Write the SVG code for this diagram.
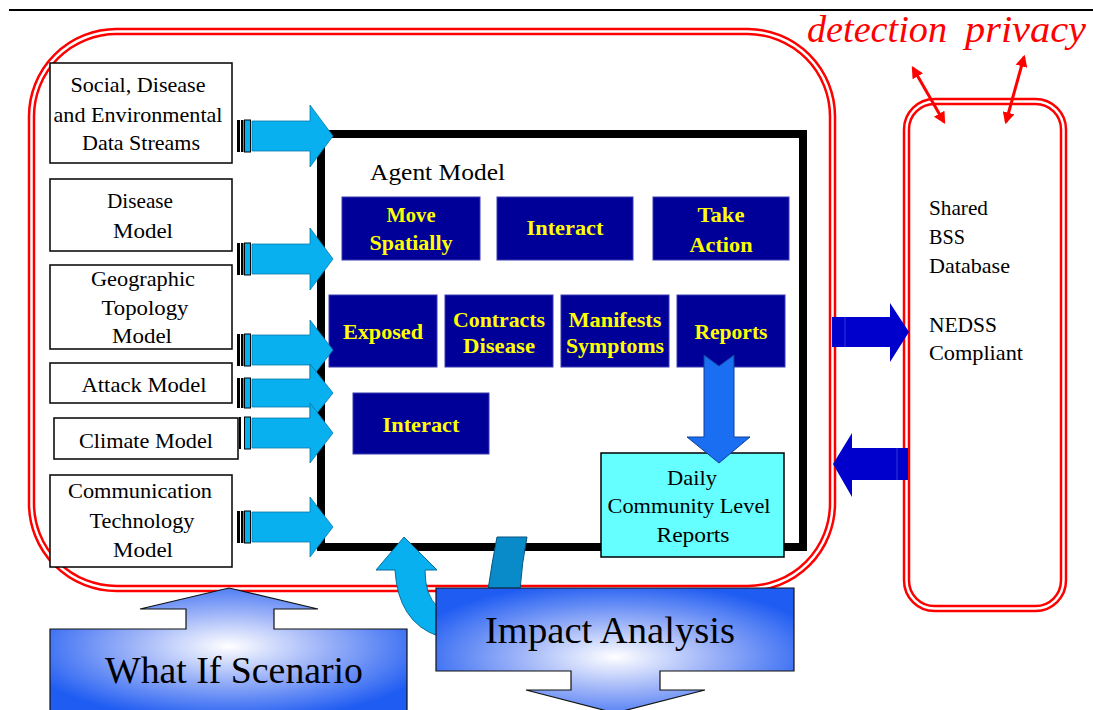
<svg xmlns="http://www.w3.org/2000/svg" width="1093" height="710" viewBox="0 0 1093 710">
<style>
.txt{font-family:"Liberation Serif","DejaVu Serif","Noto Serif","Times New Roman",serif;fill:#000}
.in{font-size:21px;text-anchor:middle}
.wbox{fill:#fff;stroke:#000;stroke-width:1.5}
.dbox{fill:#000099;stroke:#3b3bb0;stroke-width:1}
.ytxt{font-family:"Liberation Serif","DejaVu Serif","Noto Serif","Times New Roman",serif;font-weight:bold;font-size:21px;fill:#ffff00;text-anchor:middle}
.red1{fill:none;stroke:#ff0000;stroke-width:7.5}
.red2{fill:none;stroke:#fff;stroke-width:2.5}
.lb{fill:#09b0f0;stroke:#0878a8;stroke-width:0.8}
.bar{fill:#000}
.barb{fill:#09b0f0;stroke:#000;stroke-width:1}
.db{fill:#0000cc}
</style>
<defs>
<radialGradient id="g1" cx="0.5" cy="0.47" r="0.6">
<stop offset="0" stop-color="#ffffff"/>
<stop offset="0.45" stop-color="#9db3f8"/>
<stop offset="1" stop-color="#1f5cf2"/>
</radialGradient>
<radialGradient id="g2" cx="0.5" cy="0.55" r="0.6">
<stop offset="0" stop-color="#ffffff"/>
<stop offset="0.45" stop-color="#9db3f8"/>
<stop offset="1" stop-color="#1f5cf2"/>
</radialGradient>
<marker id="ra" viewBox="0 0 10 10" refX="8" refY="5" markerWidth="4" markerHeight="4" orient="auto-start-reverse">
<path d="M0,0 L10,5 L0,10 Z" fill="#ff0000"/>
</marker>
</defs>
<rect width="1093" height="710" fill="#fff"/>
<line x1="9" y1="10" x2="1093" y2="10" stroke="#000" stroke-width="2"/>

<g id="outer-frame">
<rect x="31.5" y="31.5" width="801" height="557" rx="85" class="red1"/>
<rect x="31.5" y="31.5" width="801" height="557" rx="85" class="red2"/>
</g>

<g id="bss">
<rect x="906.5" y="101.5" width="157" height="507" rx="28" class="red1"/>
<rect x="906.5" y="101.5" width="157" height="507" rx="28" class="red2"/>
<text class="txt" font-size="21" x="929" y="215" textLength="59" lengthAdjust="spacingAndGlyphs">Shared</text>
<text class="txt" font-size="21" x="929" y="244" textLength="36" lengthAdjust="spacingAndGlyphs">BSS</text>
<text class="txt" font-size="21" x="929" y="273" textLength="81" lengthAdjust="spacingAndGlyphs">Database</text>
<text class="txt" font-size="21" x="929" y="332" textLength="68" lengthAdjust="spacingAndGlyphs">NEDSS</text>
<text class="txt" font-size="21" x="929" y="360" textLength="94" lengthAdjust="spacingAndGlyphs">Compliant</text>
</g>

<g id="labels-red">
<text x="807" y="42" font-family="Liberation Serif,DejaVu Serif,Noto Serif,serif" font-style="italic" font-size="37" fill="#ff0000" textLength="140" lengthAdjust="spacingAndGlyphs">detection</text>
<text x="965" y="42" font-family="Liberation Serif,DejaVu Serif,Noto Serif,serif" font-style="italic" font-size="37" fill="#ff0000" textLength="121" lengthAdjust="spacingAndGlyphs">privacy</text>
</g>

<g id="agent-model">
<rect x="321" y="134" width="482" height="413" fill="#fff" stroke="#000" stroke-width="8"/>
<text class="txt" font-size="23" x="370" y="180" textLength="135" lengthAdjust="spacingAndGlyphs">Agent Model</text>
</g>

<g id="move-spatially"><rect x="342" y="197" width="138" height="63" class="dbox"/>
<text class="ytxt" x="411" y="222" textLength="49" lengthAdjust="spacingAndGlyphs">Move</text><text class="ytxt" x="411" y="250" textLength="83" lengthAdjust="spacingAndGlyphs">Spatially</text></g>
<g id="interact-1"><rect x="497" y="197" width="136" height="63" class="dbox"/>
<text class="ytxt" x="565" y="235" textLength="77" lengthAdjust="spacingAndGlyphs">Interact</text></g>
<g id="take-action"><rect x="653" y="197" width="136" height="63" class="dbox"/>
<text class="ytxt" x="721" y="222" textLength="47" lengthAdjust="spacingAndGlyphs">Take</text><text class="ytxt" x="721" y="252" textLength="63" lengthAdjust="spacingAndGlyphs">Action</text></g>
<g id="exposed"><rect x="329" y="295" width="108" height="72" class="dbox"/>
<text class="ytxt" x="383" y="339" textLength="80" lengthAdjust="spacingAndGlyphs">Exposed</text></g>
<g id="contracts-disease"><rect x="445" y="295" width="108" height="72" class="dbox"/>
<text class="ytxt" x="499" y="327" textLength="92" lengthAdjust="spacingAndGlyphs">Contracts</text><text class="ytxt" x="499" y="353" textLength="72" lengthAdjust="spacingAndGlyphs">Disease</text></g>
<g id="manifests-symptoms"><rect x="561" y="295" width="108" height="72" class="dbox"/>
<text class="ytxt" x="615" y="327" textLength="93" lengthAdjust="spacingAndGlyphs">Manifests</text><text class="ytxt" x="615" y="353" textLength="98" lengthAdjust="spacingAndGlyphs">Symptoms</text></g>
<g id="reports"><rect x="677" y="295" width="108" height="72" class="dbox"/>
<text class="ytxt" x="731" y="339" textLength="73" lengthAdjust="spacingAndGlyphs">Reports</text></g>
<g id="interact-2"><rect x="353" y="393" width="136" height="61" class="dbox"/>
<text class="ytxt" x="421" y="432" textLength="77" lengthAdjust="spacingAndGlyphs">Interact</text></g>

<g id="daily-reports"><rect x="601" y="453" width="183" height="104" fill="#66ffff" stroke="#000" stroke-width="1.5"/>
<text class="txt in" x="692" y="485" textLength="50" lengthAdjust="spacingAndGlyphs">Daily</text>
<text class="txt in" x="689" y="513" textLength="163" lengthAdjust="spacingAndGlyphs">Community Level</text>
<text class="txt in" x="693" y="542" textLength="73" lengthAdjust="spacingAndGlyphs">Reports</text></g>

<g id="social-data"><rect x="50" y="63" width="182" height="100" class="wbox"/>
<text class="txt in" x="138" y="92" textLength="135" lengthAdjust="spacingAndGlyphs">Social, Disease</text>
<text class="txt in" x="138" y="122" textLength="169" lengthAdjust="spacingAndGlyphs">and Environmental</text>
<text class="txt in" x="141" y="150" textLength="118" lengthAdjust="spacingAndGlyphs">Data Streams</text></g>
<g id="disease-model"><rect x="50" y="179" width="182" height="72" class="wbox"/>
<text class="txt in" x="140" y="208" textLength="66" lengthAdjust="spacingAndGlyphs">Disease</text>
<text class="txt in" x="143" y="238" textLength="60" lengthAdjust="spacingAndGlyphs">Model</text></g>
<g id="geo-model"><rect x="50" y="265" width="182" height="84" class="wbox"/>
<text class="txt in" x="143" y="286" textLength="104" lengthAdjust="spacingAndGlyphs">Geographic</text>
<text class="txt in" x="145" y="315" textLength="87" lengthAdjust="spacingAndGlyphs">Topology</text>
<text class="txt in" x="142" y="343" textLength="60" lengthAdjust="spacingAndGlyphs">Model</text></g>
<g id="attack-model"><rect x="50" y="363" width="182" height="40" class="wbox"/>
<text class="txt in" x="144" y="392" textLength="125" lengthAdjust="spacingAndGlyphs">Attack Model</text></g>
<g id="climate-model"><rect x="54" y="418" width="184" height="41" class="wbox"/>
<text class="txt in" x="146" y="448" textLength="134" lengthAdjust="spacingAndGlyphs">Climate Model</text></g>
<g id="comm-model"><rect x="50" y="475" width="182" height="92" class="wbox"/>
<text class="txt in" x="140" y="498" textLength="144" lengthAdjust="spacingAndGlyphs">Communication</text>
<text class="txt in" x="142" y="528" textLength="105" lengthAdjust="spacingAndGlyphs">Technology</text>
<text class="txt in" x="143" y="557" textLength="60" lengthAdjust="spacingAndGlyphs">Model</text></g>

<g id="what-if">
<path d="M50,629 H186 V609 H140 L229,588 L318,609 H274 V629 H407 V712 H50 Z" fill="url(#g1)" stroke="#111" stroke-width="1.2"/>
<text class="txt" font-size="38" x="105" y="683" textLength="258" lengthAdjust="spacingAndGlyphs">What If Scenario</text>
</g>

<g id="connectors">
<g id="input-arrows">
<path class="lb" d="M252,121 H310 V105 L333,136 L310,167 V151 H252 Z"/>
<rect class="bar" x="237" y="120" width="3" height="32"/><rect class="bar" x="241" y="120" width="2.5" height="32"/><rect class="barb" x="244.5" y="120" width="6" height="32"/>
<path class="lb" d="M252,244 H310 V228 L333,259 L310,290 V274 H252 Z"/>
<rect class="bar" x="237" y="243" width="3" height="32"/><rect class="bar" x="241" y="243" width="2.5" height="32"/><rect class="barb" x="244.5" y="243" width="6" height="32"/>
<path class="lb" d="M252,335 H310 V320 L333,350 L310,380 V365 H252 Z"/>
<rect class="bar" x="237" y="334" width="3" height="32"/><rect class="bar" x="241" y="334" width="2.5" height="32"/><rect class="barb" x="244.5" y="334" width="6" height="32"/>
<path class="lb" d="M252,379 H310 V364 L333,393 L310,422 V407 H252 Z"/>
<rect class="bar" x="237" y="378" width="3" height="30"/><rect class="bar" x="241" y="378" width="2.5" height="30"/><rect class="barb" x="244.5" y="378" width="6" height="30"/>
<path class="lb" d="M252,418 H310 V403 L333,433 L310,463 V448 H252 Z"/>
<rect class="bar" x="239" y="417" width="2" height="32"/><rect class="barb" x="244.5" y="417" width="6" height="32"/>
<path class="lb" d="M252,512 H310 V497 L333,527 L310,557 V542 H252 Z"/>
<rect class="bar" x="237" y="511" width="3" height="32"/><rect class="bar" x="241" y="511" width="2.5" height="32"/><rect class="barb" x="244.5" y="511" width="6" height="32"/>
</g>
<path id="reports-to-daily" d="M704,355 L719,366 L734,355 V437 H750 L719,463 L687,437 H704 Z" fill="#1a6ef2" stroke="#0d3f9a" stroke-width="1"/>
<g id="bss-arrows">
<path class="db" d="M832,317 H890 V303 L909,332 L890,362 V347 H832 Z"/>
<line x1="845" y1="317" x2="845" y2="347" stroke="#3333dd" stroke-width="1"/>
<path class="db" d="M908,448 H852 V433 L833,464 L852,497 V480 H908 Z"/>
<line x1="897" y1="448" x2="897" y2="480" stroke="#3333dd" stroke-width="1"/>
</g>
<line x1="913" y1="68" x2="944" y2="122" stroke="#ff0000" stroke-width="3" marker-start="url(#ra)" marker-end="url(#ra)"/>
<line x1="1024" y1="57" x2="1006" y2="122" stroke="#ff0000" stroke-width="3" marker-start="url(#ra)" marker-end="url(#ra)"/>
<path id="impact-to-agent" d="M497,537 L527,537 Q522,562 520,590 L488,590 Q492,562 497,537 Z" fill="#0a8bc9" stroke="#04557e" stroke-width="1"/>
<path id="impact-feedback" d="M404,537 L437,570 L425,570 Q425,596 438,607 L438,636 Q398,622 395,570 L376,570 Z" fill="#09b0f0" stroke="#066f9a" stroke-width="1"/>
</g>

<g id="impact-analysis">
<path d="M436,588 H794 V671 H660 V690 H705 L615,713 L526,690 H571 V671 H436 Z" fill="url(#g2)" stroke="#111" stroke-width="1.2"/>
<text class="txt" font-size="38" x="485" y="643" textLength="250" lengthAdjust="spacingAndGlyphs">Impact Analysis</text>
</g>
</svg>
